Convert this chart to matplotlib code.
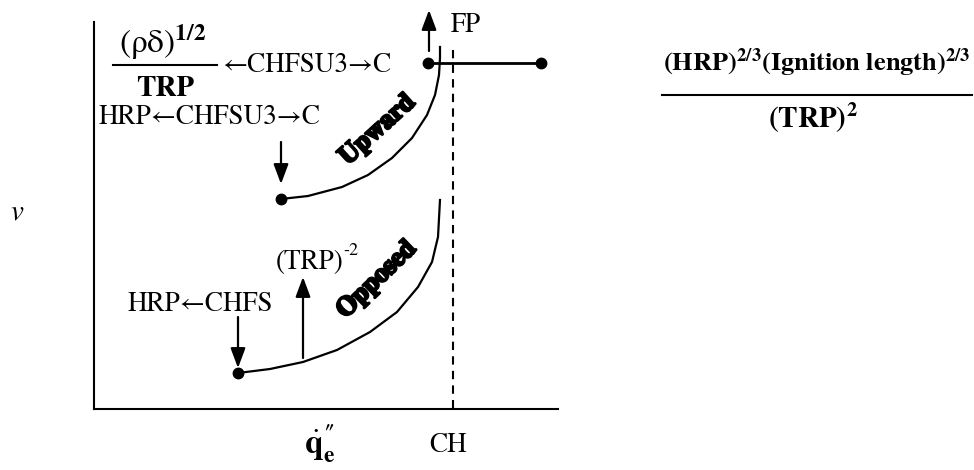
import matplotlib.pyplot as plt
import matplotlib.patheffects as pe

plt.rcParams['font.family'] = ['STIXGeneral', 'DejaVu Serif']
plt.rcParams['mathtext.fontset'] = 'stix'

# Schematic in pixel-like units (x to the right, y downward)
upward_x = [281, 308, 342, 368, 392, 412, 427, 435, 439, 440, 440]
upward_y = [199, 196, 187, 175, 158, 138, 115, 95, 75, 58, 47]
opposed_x = [238, 270, 303, 337, 370, 397, 418, 432, 438, 440]
opposed_y = [373, 369, 362, 350, 332, 312, 287, 262, 237, 200]

dots_x = [281, 238, 428, 541]
dots_y = [199, 373, 63, 63]

ch_x = 453
ch_top = 50
link_x = [428, 541]
link_y = [63, 63]

# arrows: (x, y_start, y_end)
arrows = [(429, 51, 10), (281, 142, 184), (238, 317, 368), (303, 358, 277)]

fig = plt.figure(figsize=(9.74, 4.70), dpi=100)
ax = fig.add_axes([94 / 974, (470 - 409) / 470, (558 - 94) / 974, (409 - 22) / 470])
ax.set_xlim(94, 558)
ax.set_ylim(409, 22)
ax.set_xticks([])
ax.set_yticks([])
for s in ['top', 'right']:
    ax.spines[s].set_visible(False)
for s in ['left', 'bottom']:
    ax.spines[s].set_linewidth(1.5)

ax.plot(upward_x, upward_y, color='black', lw=1.6, clip_on=False)
ax.plot(opposed_x, opposed_y, color='black', lw=1.6, clip_on=False)
ax.plot([ch_x, ch_x], [ch_top, 409], color='black', lw=1.5, ls=(0, (4, 3)), clip_on=False)
ax.plot(link_x, link_y, color='black', lw=2, clip_on=False)
ax.plot(dots_x, dots_y, 'o', color='black', ms=7.5, clip_on=False)

for x, y0, y1 in arrows:
    ax.annotate('', xy=(x, y1), xytext=(x, y0), annotation_clip=False,
                arrowprops=dict(arrowstyle='-|>,head_length=1.2,head_width=0.45',
                                color='black', lw=1.6, shrinkA=0, shrinkB=0))

fs = 19.5
ax.text(210, 117, 'HRP\u2190CHFSU3\u2192C', fontsize=fs, ha='center', va='center', clip_on=False)
ax.text(200, 304, 'HRP\u2190CHFS', fontsize=fs, ha='center', va='center', clip_on=False)
ax.text(310, 262, '(TRP)', fontsize=fs, ha='center', va='center', clip_on=False)
ax.text(343, 251, '-2', fontsize=13, ha='left', va='center', clip_on=False)
ax.text(466, 25, 'FP', fontsize=fs, ha='center', va='center', clip_on=False)
ax.text(307, 65, '\u2190CHFSU3\u2192C', fontsize=fs, ha='center', va='center', clip_on=False)
ax.text(448, 445, 'CH', fontsize=fs, ha='center', va='center', clip_on=False)

# (rho delta)^(1/2) / TRP
ax.text(163, 42, r'$(\mathrm{\rho\delta})^{\mathbf{1/2}}$', fontsize=24, ha='center', va='center', clip_on=False)
ax.plot([113, 217], [65, 65], color='black', lw=1.5, clip_on=False)
ax.text(165, 89, 'TRP', fontsize=21, fontweight='bold', ha='center', va='center', clip_on=False)

# right-hand scaling group
ax.text(817, 63, r'$\mathbf{(HRP)^{2/3}(Ignition\ length)^{2/3}}$', fontsize=19,
        ha='center', va='center', clip_on=False)
ax.plot([662, 972], [95, 95], color='black', lw=1.5, clip_on=False)
ax.text(813, 118, r'$\mathbf{(TRP)^{2}}$', fontsize=21, ha='center', va='center', clip_on=False)

ax.text(17, 213, r'$v$', fontsize=21, ha='center', va='center', clip_on=False)
ax.text(320, 444, '$\\dot{\\mathbf{q}}_{\\mathbf{e}}^{\\mathbf{\u2033}}$', fontsize=24,
        ha='center', va='center', clip_on=False)

stroke = [pe.withStroke(linewidth=1.8, foreground='black')]
ax.text(378, 130, 'Upward', fontsize=19, fontweight='bold', rotation=42,
        ha='center', va='center', path_effects=stroke, clip_on=False)
ax.text(377, 280, 'Opposed', fontsize=19, fontweight='bold', rotation=44,
        ha='center', va='center', path_effects=stroke, clip_on=False)

fig.savefig('out.png', dpi=100)
